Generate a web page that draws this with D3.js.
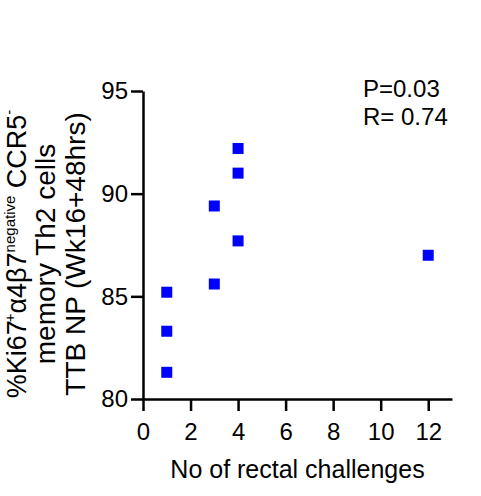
<!DOCTYPE html>
<html><head><meta charset="utf-8">
<script src="https://cdn.jsdelivr.net/npm/d3@7"></script>
<style>
body{margin:0;background:#fff;}
text{font-family:"Liberation Sans",Arial,sans-serif;fill:#000;}
</style></head>
<body>
<svg id="chart" width="481" height="496"></svg>
<script>
const challenges = [1, 1, 1, 3, 3, 4, 4, 4, 12];
const percentKi67 = [81.3, 83.3, 85.2, 85.6, 89.4, 87.7, 91.0, 92.2, 87.0];
const xTicks = [0, 2, 4, 6, 8, 10, 12];
const yTicks = [80, 85, 90, 95];
const statsLines = ["P=0.03", "R= 0.74"];
const xTitle = "No of rectal challenges";

const svg = d3.select("#chart");
const x = d3.scaleLinear().domain([0, 13]).range([143, 452]);
const y = d3.scaleLinear().domain([80, 95]).range([399, 91]);

const xAxis = svg.append("g").attr("transform", `translate(0,${y(80)})`)
  .call(d3.axisBottom(x).tickValues(xTicks).tickSize(12).tickPadding(12).tickSizeOuter(0));
const yAxis = svg.append("g").attr("transform", `translate(${x(0)},0)`)
  .call(d3.axisLeft(y).tickValues(yTicks).tickSize(12).tickPadding(3).tickSizeOuter(0));
[xAxis, yAxis].forEach(g => {
  g.selectAll("path,line").attr("stroke", "#000").attr("stroke-width", 2.5);
  g.selectAll("text").attr("font-size", 24).attr("font-family", '"Liberation Sans",Arial,sans-serif').attr("fill", "#000");
});

const s = 11;
svg.append("g").selectAll("rect").data(challenges).join("rect")
  .attr("x", (d) => x(d) - s / 2)
  .attr("y", (d, i) => y(percentKi67[i]) - s / 2)
  .attr("width", s).attr("height", s)
  .attr("fill", "#0000ff");

svg.append("text").attr("x", (x(0) + x(13)) / 2).attr("y", 478)
  .attr("text-anchor", "middle").attr("font-size", 25).text(xTitle);

svg.selectAll(".stat").data(statsLines).join("text").attr("class", "stat")
  .attr("x", 363).attr("y", (d, i) => 97 + i * 28).attr("font-size", 24).text(d => d);

// Y title (three lines, rotated)
const yt = svg.append("g").attr("transform", "translate(0,254) rotate(-90)");
const l1 = yt.append("text").attr("x", 0).attr("y", 26).attr("text-anchor", "middle").attr("font-size", 27);
l1.append("tspan").text("%Ki67");
l1.append("tspan").attr("font-size", 15).attr("dy", -11).attr("dx", -2).text("+");
l1.append("tspan").attr("dy", 11).text("α4β7");
l1.append("tspan").attr("font-size", 15).attr("dy", -11).text("negative");
l1.append("tspan").attr("dy", 11).text(" CCR5");
l1.append("tspan").attr("font-size", 15).attr("dy", -12).text("-");
yt.append("text").attr("x", 0).attr("y", 55).attr("text-anchor", "middle").attr("font-size", 28).text("memory Th2 cells");
yt.append("text").attr("x", 0).attr("y", 85).attr("text-anchor", "middle").attr("font-size", 28).text("TTB NP (Wk16+48hrs)");
</script>
</body></html>
